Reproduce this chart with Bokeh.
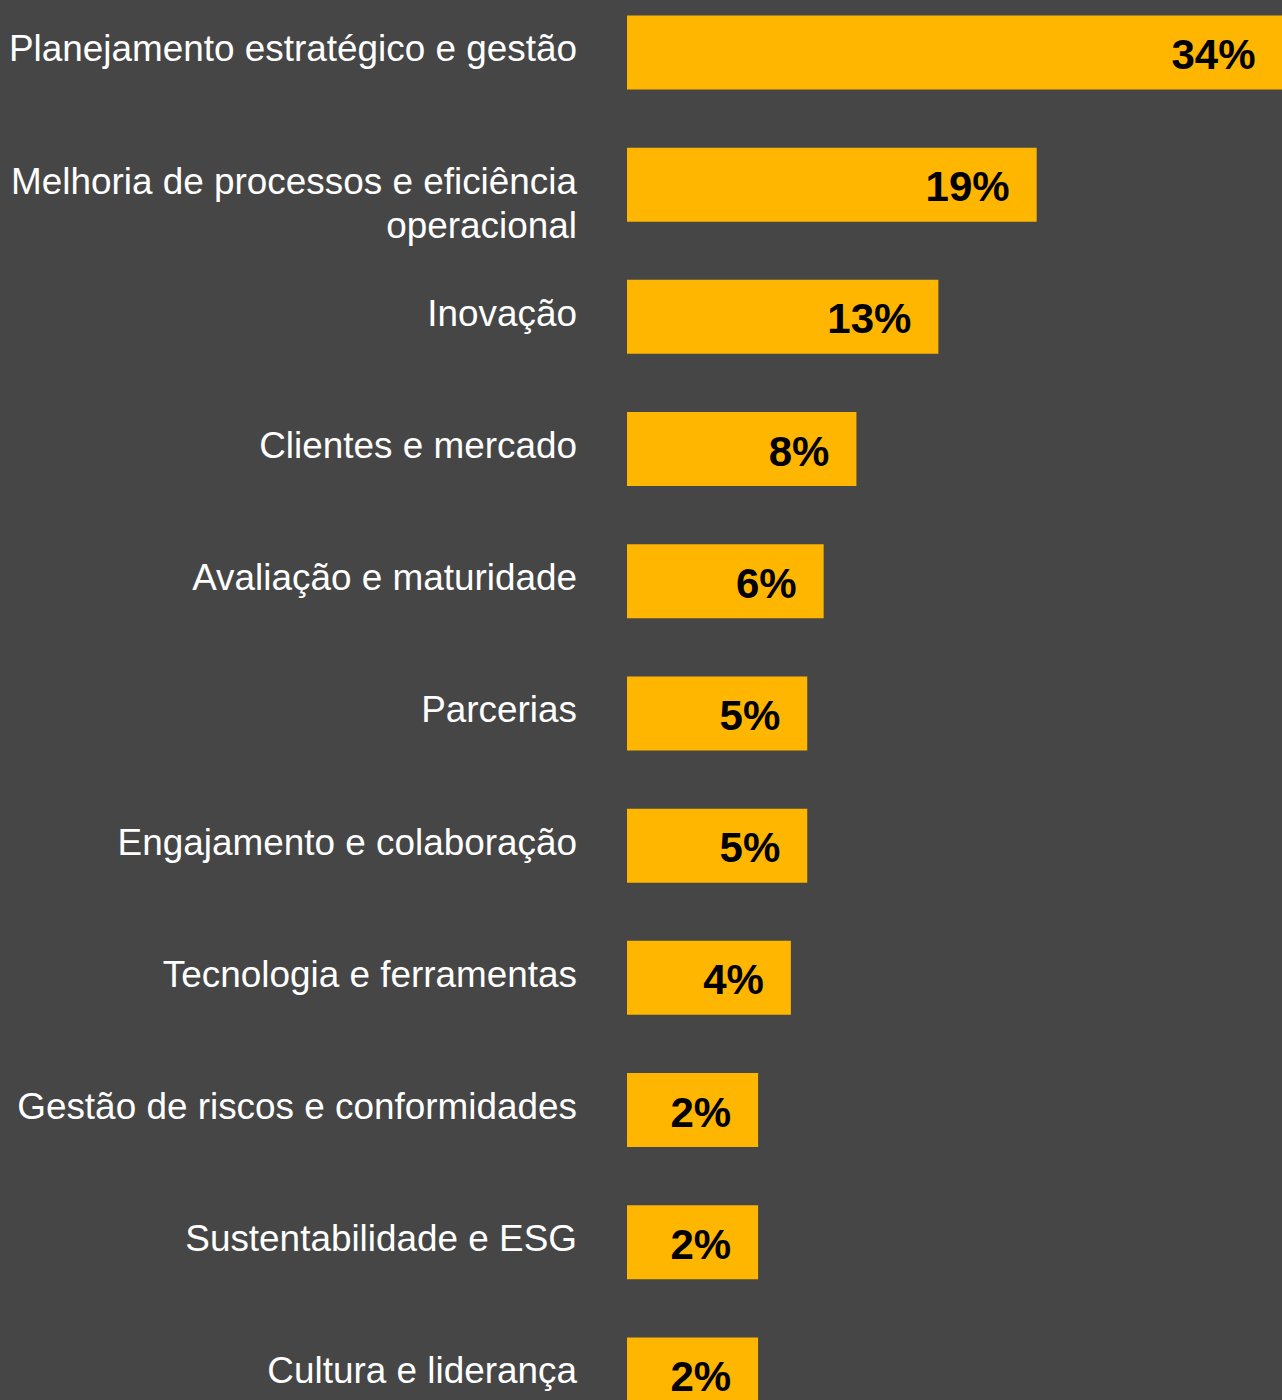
from bokeh.plotting import figure
from bokeh.models import ColumnDataSource, Range1d
from bokeh.core.properties import value
from bokeh.embed import file_html
from bokeh.resources import INLINE

# Share of responses by theme (%)
categories = [
    "Planejamento estratégico e gestão",
    "Melhoria de processos e eficiência\noperacional",
    "Inovação",
    "Clientes e mercado",
    "Avaliação e maturidade",
    "Parcerias",
    "Engajamento e colaboração",
    "Tecnologia e ferramentas",
    "Gestão de riscos e conformidades",
    "Sustentabilidade e ESG",
    "Cultura e liderança",
]
values = [34, 19, 13, 8, 6, 5, 5, 4, 2, 2, 2]
value_labels = [f"{v}%" for v in values]

BG = "#464646"
BAR = "#FFB600"
BASE = -6  # common bar baseline, left of zero so small bars hold their labels

rows = list(range(len(categories)))
src = ColumnDataSource(dict(
    row=rows,
    cat=categories,
    val=values,
    lab=value_labels,
    base=[BASE] * len(values),
))

p = figure(
    width=1282, height=1400,
    x_range=Range1d(-44.23, 34),
    y_range=Range1d(10.197, -0.393),
    output_backend="svg", toolbar_location=None,
    min_border=0, min_border_left=0, min_border_right=0,
    min_border_top=0, min_border_bottom=0,
)
p.background_fill_color = BG
p.border_fill_color = BG
p.outline_line_color = None
p.xaxis.visible = False
p.yaxis.visible = False
p.xgrid.visible = False
p.ygrid.visible = False

p.hbar(y="row", left="base", right="val", height=0.56, source=src,
       fill_color=BAR, line_color=None)

# Category names, right-aligned to the left of the bars
p.text(x="base", y="row", text="cat", source=src,
       text_align="right", text_baseline="top",
       x_offset=-50, y_offset=-24,
       text_font=value("Liberation Sans"), text_font_size="36.9px",
       text_color="white", text_line_height=1.08)

# Value labels inside the bar ends
p.text(x="val", y="row", text="lab", source=src,
       text_align="right", text_baseline="middle",
       x_offset=-27, y_offset=2,
       text_font=value("Liberation Sans"), text_font_style="bold",
       text_font_size="42px", text_color="black")

html = file_html(p, INLINE)
html = html.replace("</head>", "<style>html, body { margin: 0; background: #464646; }</style></head>", 1)
open("out.html", "w").write(html)
